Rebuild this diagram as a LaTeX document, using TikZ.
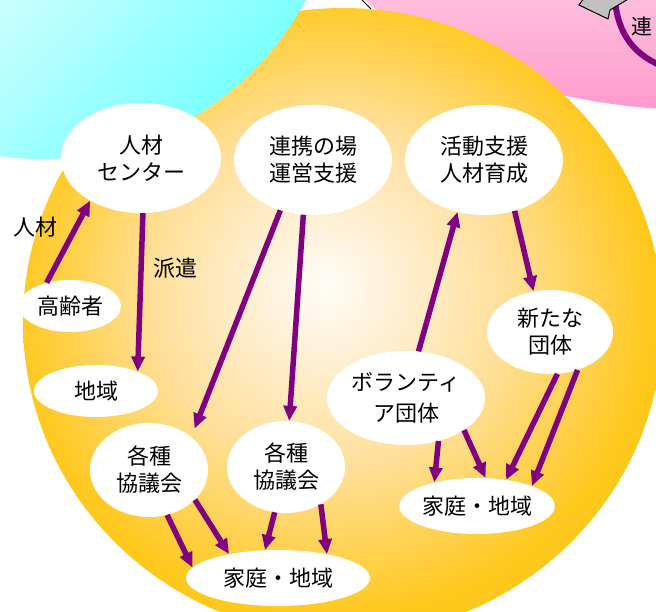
\documentclass[tikz,border=0pt]{standalone}
\usepackage{fontspec}
\newfontfamily\jpfont{Noto Sans CJK JP}
\usetikzlibrary{shapes.geometric,arrows.meta}

\definecolor{linkpurple}{HTML}{800080}
\definecolor{pinkA}{HTML}{FFBEDC}
\definecolor{pinkB}{HTML}{FF99CC}
\definecolor{cyanA}{HTML}{D0FFFF}
\definecolor{cyanB}{HTML}{66FFFF}
\definecolor{glowA}{HTML}{FFFDF8}
\definecolor{glowB}{HTML}{FFF1D8}
\definecolor{glowC}{HTML}{FFDF98}
\definecolor{glowD}{HTML}{FFD048}
\definecolor{glowE}{HTML}{FFC81C}
\definecolor{arrowgray}{HTML}{C0C0C0}

\pgfdeclareradialshading{sunglow}{\pgfpoint{-1.5bp}{3bp}}{color(0bp)=(glowA); color(5bp)=(glowB); color(14bp)=(glowC); color(21bp)=(glowD); color(25bp)=(glowE); color(50bp)=(glowE)}

\begin{document}
\begin{tikzpicture}[x=1pt,y=-1pt,
    main node/.style={ellipse,fill=white,inner sep=0pt,align=center,font=\jpfont\fontsize{22}{27}\selectfont},
    link/.style={-{Triangle[length=15pt,width=13pt]},line width=5.5pt,color=linkpurple},
    tag/.style={font=\jpfont\fontsize{22}{27}\selectfont}]

    \useasboundingbox (0,0) rectangle (656,612);
    \clip (0,0) rectangle (656,612);

    % background discs
    \begin{scope}
        \clip (700,-150) ellipse [x radius=410, y radius=260];
        \shade[top color=pinkA,bottom color=pinkB] (290,0) rectangle (656,112);
    \end{scope}
    \draw[line width=1pt] (362,0) -- (371,9);

    \shade[shading=sunglow] (343,322) ellipse [x radius=320, y radius=314];

    \begin{scope}
        \clip (40,-143) circle [radius=302];
        \shade[top color=cyanA,bottom color=cyanB,shading angle=45] (-60,-60) rectangle (345,162);
    \end{scope}

    \draw[linkpurple,line width=6pt] (615,0) .. controls (618,35) and (635,55) .. (662,66);
    \filldraw[fill=arrowgray,draw=black,line width=1pt] (584,-2) -- (579,5) -- (608,19) -- (610,10) -- (630,-2) -- cycle;
    \node[font=\jpfont\fontsize{21}{24}\selectfont] (12) at (642,26) {連};

    \node[main node,minimum width=160pt,minimum height=110pt] (1) at (141,158) {人材\\センター};
    \node[main node,minimum width=158pt,minimum height=110pt] (2) at (313,160) {連携の場\\運営支援};
    \node[main node,minimum width=158pt,minimum height=110pt] (3) at (484,160) {活動支援\\人材育成};
    \node[main node,minimum width=102pt,minimum height=52pt] (4) at (70,306) {高齢者};
    \node[main node,minimum width=124pt,minimum height=52pt] (5) at (96,391) {地域};
    \node[main node,minimum width=118pt,minimum height=94pt] (6) at (149,470) {各種\\協議会};
    \node[main node,minimum width=118pt,minimum height=92pt] (7) at (286,467) {各種\\協議会};
    \node[main node,minimum width=184pt,minimum height=56pt] (8) at (278,578) {家庭・地域};
    \node[main node,minimum width=158pt,minimum height=94pt,font=\jpfont\fontsize{22}{31}\selectfont] (9) at (406,398) {ボランティ\\ア団体};
    \node[main node,minimum width=126pt,minimum height=84pt] (10) at (550,332) {新たな\\団体};
    \node[main node,minimum width=150pt,minimum height=56pt] (11) at (477,506) {家庭・地域};

    \node[tag] (13) at (35,227) {人材};
    \node[tag] (14) at (175,268) {派遣};

    \path[link]
        (4.135) edge (1.220)
        (1.-88) edge (5.25)
        (2.237) edge[shorten >=9pt] (6.38)
        (2.-100) edge (7.86)
        (9.75) edge (3.243)
        (3.-59) edge (10.112)
        (10.-80) edge (11.42)
        (10.-54) edge (11.20)
        (9.-53) edge (11.151)
        (9.-29) edge (11.73)
        (6.-68) edge (8.173)
        (6.-33) edge (8.154)
        (7.-104) edge (8.115)
        (7.-47) edge (8.26)
    ;
\end{tikzpicture}
\end{document}
